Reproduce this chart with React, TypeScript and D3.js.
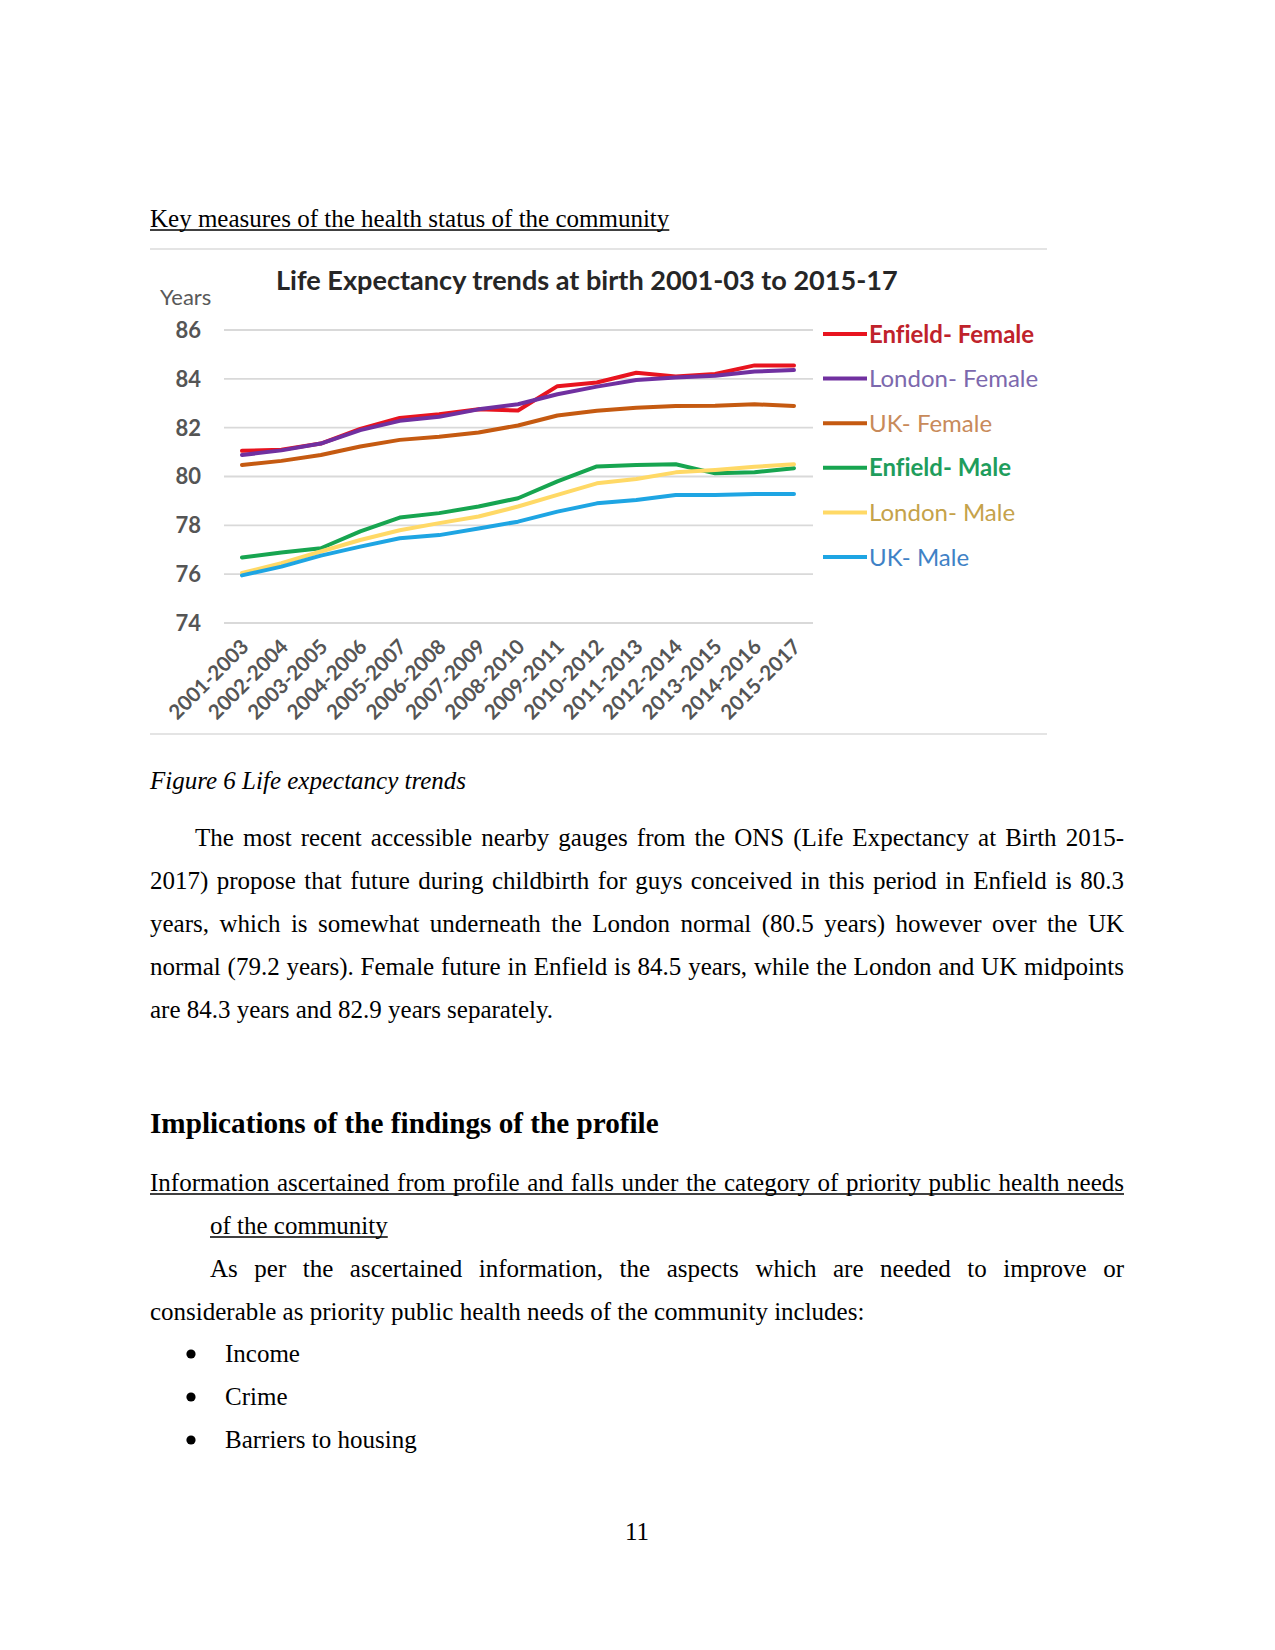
import React from 'react';
import * as d3 from 'd3';

// ---------- DATA ----------
const periods = [
  '2001-2003', '2002-2004', '2003-2005', '2004-2006', '2005-2007', '2006-2008', '2007-2009',
  '2008-2010', '2009-2011', '2010-2012', '2011-2013', '2012-2014', '2013-2015', '2014-2016', '2015-2017',
];
const enfieldFemale = [81.05, 81.1, 81.35, 81.95, 82.4, 82.55, 82.75, 82.7, 83.7, 83.85, 84.25, 84.1, 84.2, 84.55, 84.55];
const londonFemale = [80.88, 81.07, 81.35, 81.9, 82.28, 82.45, 82.75, 82.96, 83.37, 83.68, 83.95, 84.05, 84.13, 84.3, 84.36];
const ukFemale = [80.47, 80.64, 80.88, 81.23, 81.5, 81.63, 81.8, 82.09, 82.5, 82.69, 82.82, 82.89, 82.9, 82.96, 82.89];
const enfieldMale = [76.68, 76.89, 77.06, 77.75, 78.32, 78.5, 78.77, 79.11, 79.8, 80.41, 80.47, 80.5, 80.13, 80.17, 80.34];
const londonMale = [76.05, 76.45, 76.93, 77.4, 77.8, 78.09, 78.36, 78.77, 79.25, 79.72, 79.9, 80.17, 80.27, 80.4, 80.5];
const ukMale = [75.95, 76.31, 76.76, 77.13, 77.47, 77.6, 77.87, 78.15, 78.56, 78.9, 79.04, 79.24, 79.24, 79.28, 79.28];
const seriesNames = ['Enfield- Female', 'London- Female', 'UK- Female', 'Enfield- Male', 'London- Male', 'UK- Male'];
const yTicks = [74, 76, 78, 80, 82, 84, 86];

const chartTitle = 'Life Expectancy trends at birth 2001-03 to 2015-17';
const yAxisTitle = 'Years';
const sectionHeading = 'Key measures of the health status of the community';
const figureCaption = 'Figure 6 Life expectancy trends';
const paragraph1 = [
  'The most recent accessible nearby gauges from the ONS (Life Expectancy at Birth 2015-',
  '2017) propose that future during childbirth for guys conceived in this period in Enfield is 80.3',
  'years, which is somewhat underneath the London normal (80.5 years) however over the UK',
  'normal (79.2 years). Female future in Enfield is 84.5 years, while the London and UK midpoints',
  'are 84.3 years and 82.9 years separately.',
];
const heading2 = 'Implications of the findings of the profile';
const subHeading = [
  'Information ascertained from profile and falls under the category of priority public health needs',
  'of the community',
];
const paragraph2 = [
  'As per the ascertained information, the aspects which are needed to improve or',
  'considerable as priority public health needs of the community includes:',
];
const bullets = ['Income', 'Crime', 'Barriers to housing'];
const pageNumber = '11';

// ---------- STYLE ----------
const seriesData = [enfieldFemale, londonFemale, ukFemale, enfieldMale, londonMale, ukMale];
const lineColors = ['#e8141f', '#7030a0', '#c55a11', '#17a550', '#ffd966', '#1ea5e3'];
const legendTextColors = ['#c0222b', '#7c68ad', '#c88a5a', '#1f9d5c', '#c5a24a', '#3f82c6'];
const legendWeights = [700, 400, 400, 700, 400, 400];

const SERIF = '"Liberation Serif", "Times New Roman", serif';
const SANS = 'Lato, "Open Sans", sans-serif';
const noLig = { fontVariantLigatures: 'none' } as React.CSSProperties;

let _ctx: CanvasRenderingContext2D | null = null;
function measure(text: string, font: string): number {
  if (!_ctx) _ctx = document.createElement('canvas').getContext('2d');
  if (!_ctx) return text.length * 11;
  _ctx.font = font;
  return _ctx.measureText(text).width;
}

type LineProps = {
  text: string; x0: number; x1?: number; y: number; size?: number; weight?: number;
  italic?: boolean; justify?: boolean; underline?: boolean;
};
function TextLine({ text, x0, x1 = 1124, y, size = 25, weight = 400, italic = false, justify = false, underline = false }: LineProps) {
  const font = `${italic ? 'italic ' : ''}${weight} ${size}px ${SERIF}`;
  const common = { fontFamily: SERIF, fontSize: size, fontWeight: weight, fontStyle: italic ? 'italic' : 'normal', fill: '#000' };
  let end = x0 + measure(text, font);
  let content: React.ReactNode;
  if (justify) {
    const words = text.split(' ');
    const widths = words.map((w) => measure(w, font));
    const gap = (x1 - x0 - d3.sum(widths)) / (words.length - 1);
    let x = x0;
    content = (
      <text y={y} {...common}>
        {words.map((w, i) => {
          const el = <tspan key={i} x={x}>{w}</tspan>;
          x += widths[i] + gap;
          return el;
        })}
      </text>
    );
    end = x1;
  } else {
    content = <text x={x0} y={y} {...common}>{text}</text>;
  }
  return (
    <g>
      {content}
      {underline && <line x1={x0} x2={end} y1={y + 3} y2={y + 3} stroke="#000" strokeWidth={1.4} />}
    </g>
  );
}

export default function App() {
  const W = 1275;
  const H = 1650;
  const x = d3.scalePoint<string>().domain(periods).range([242, 794]);
  const y = d3.scaleLinear().domain([74, 86]).range([623, 330]);
  const line = d3.line<number>().x((_, i) => x(periods[i]) as number).y((d) => y(d));
  const legendY = d3.scalePoint<string>().domain(seriesNames).range([334, 557]);

  return (
    <svg width={W} height={H} style={{ position: 'absolute', left: 0, top: 0, background: '#fff' }}>
      <rect width={W} height={H} fill="#fff" />
      <TextLine text={sectionHeading} x0={150} y={227} underline />

      {/* chart frame */}
      <line x1={150} x2={1047} y1={249} y2={249} stroke="#e4e4e4" strokeWidth={2} />
      <line x1={150} x2={1047} y1={734} y2={734} stroke="#e4e4e4" strokeWidth={2} />

      <text x={276} y={290} fontFamily={SANS} fontWeight={700} fontSize={27.1} fill="#262626" style={noLig}>{chartTitle}</text>
      <text x={160} y={305} fontFamily={SANS} fontSize={22} fill="#595959">{yAxisTitle}</text>

      {/* gridlines and y ticks */}
      {yTicks.map((t) => (
        <g key={t}>
          <line x1={224} x2={813} y1={y(t)} y2={y(t)} stroke="#d9d9d9" strokeWidth={1.8} />
          <text x={201} y={y(t)} dy="0.36em" textAnchor="end" fontFamily={SANS} fontWeight={700} fontSize={22} fill="#555">{t}</text>
        </g>
      ))}

      {/* x labels */}
      {periods.map((p) => (
        <text key={p} transform={`translate(${(x(p) as number) + 8},648) rotate(-45)`} textAnchor="end"
          fontFamily={SANS} fontWeight={700} fontSize={20.5} fill="#555">{p}</text>
      ))}

      {/* series */}
      {seriesData.map((s, i) => (
        <path key={seriesNames[i]} d={line(s) || ''} fill="none" stroke={lineColors[i]} strokeWidth={4}
          strokeLinejoin="round" strokeLinecap="round" />
      ))}

      {/* legend */}
      {seriesNames.map((n, i) => (
        <g key={n}>
          <line x1={823} x2={867} y1={legendY(n)} y2={legendY(n)} stroke={lineColors[i]} strokeWidth={4} />
          <text x={869} y={legendY(n)} dy="0.36em" fontFamily={SANS} fontSize={24} fontWeight={legendWeights[i]}
            fill={legendTextColors[i]} style={noLig}>{n}</text>
        </g>
      ))}

      <TextLine text={figureCaption} x0={150} y={789} italic />

      {paragraph1.map((t, i) => (
        <TextLine key={i} text={t} x0={i === 0 ? 195 : 150} y={846 + i * 43.1} justify={i < paragraph1.length - 1} />
      ))}

      <TextLine text={heading2} x0={150} y={1133} size={29.2} weight={700} />
      <TextLine text={subHeading[0]} x0={150} y={1191} justify underline />
      <TextLine text={subHeading[1]} x0={210} y={1234} underline />
      <TextLine text={paragraph2[0]} x0={210} y={1277} justify />
      <TextLine text={paragraph2[1]} x0={150} y={1320} />

      {bullets.map((b, i) => (
        <g key={b}>
          <circle cx={191} cy={1362 + i * 43 - 8} r={4.6} fill="#000" />
          <TextLine text={b} x0={225} y={1362 + i * 43} />
        </g>
      ))}

      <text x={637} y={1540} textAnchor="middle" fontFamily={SERIF} fontSize={25}>{pageNumber}</text>
    </svg>
  );
}
